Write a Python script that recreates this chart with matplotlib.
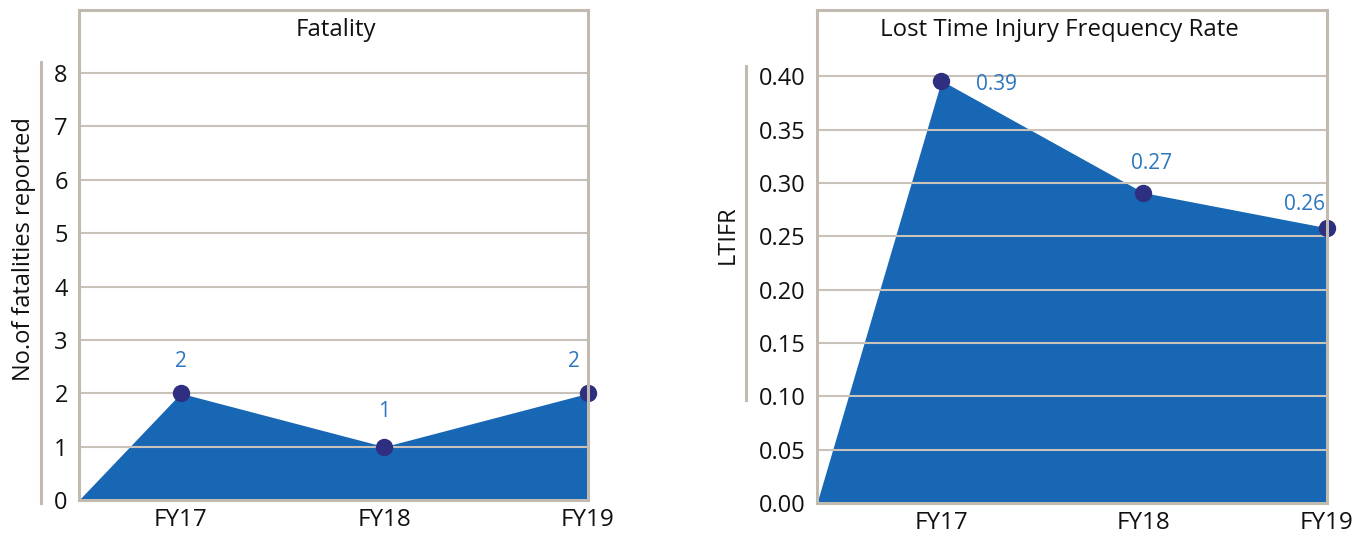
import matplotlib.pyplot as plt

plt.rcParams['font.family'] = ['Open Sans', 'DejaVu Sans']

years = ["FY17", "FY18", "FY19"]

fatal_x = [0.5, 1.5, 2.5]
fatalities = [2, 1, 2]
fatal_labels = ["2", "1", "2"]
fatal_offsets = [(0, 23), (0, 25), (-10, 23)]
fatal_ticks = [0, 1, 2, 3, 4, 5, 6, 7, 8]

ltifr_x = [0.61, 1.6, 2.5]
ltifr = [0.396, 0.291, 0.258]
ltifr_labels = ["0.39", "0.27", "0.26"]
ltifr_offsets = [(40, -3), (6, 21), (-16, 17)]
ltifr_ticks = [0.0, 0.05, 0.10, 0.15, 0.20, 0.25, 0.30, 0.35, 0.40]

FILL = "#1867b4"
MARK = "#2e2f80"
LAB = "#2a76c0"
FRAME = "#c2bab0"
GRID = "#c8c2ba"

fig = plt.figure(figsize=(13.68, 5.35), dpi=100)
ax1 = fig.add_axes([0.0577, 0.0654, 0.3721, 0.9156])
ax2 = fig.add_axes([0.5972, 0.0598, 0.3728, 0.9212])


def draw(ax, xs, ys, ticks, ymax, fmt, labels, offsets, title, title_x,
         ylabel, ylabel_pos, side_line):
    px = [0] + xs
    py = [0] + ys
    ax.fill_between(px, py, 0, color=FILL, lw=0, zorder=1)
    for t in ticks[1:]:
        ax.axhline(t, color=GRID, lw=1.5, zorder=2)
    ax.plot(xs, ys, 'o', color=MARK, ms=11.5, zorder=4, clip_on=False)
    for x, y, lab, off in zip(xs, ys, labels, offsets):
        ax.annotate(lab, (x, y), xytext=off, textcoords='offset points',
                    ha='center', va='center', color=LAB, fontsize=15)
    ax.set_xlim(0, xs[-1])
    ax.set_ylim(0, ymax)
    ax.set_xticks(xs)
    ax.set_xticklabels(years)
    ax.set_yticks(ticks)
    ax.set_yticklabels([fmt.format(t) for t in ticks])
    ax.tick_params(length=0, labelsize=17, colors="#111111", pad=8)
    ax.tick_params(axis='x', labelsize=17.5, pad=6)
    for s in ax.spines.values():
        s.set_color(FRAME)
        s.set_linewidth(2.2)
        s.set_zorder(5)
    ax.text(title_x, 0.959, title, transform=ax.transAxes, ha='center',
            va='center', fontsize=17.3, color="#111111")
    ax.set_ylabel(ylabel, fontsize=17, color="#111111")
    ax.yaxis.set_label_coords(*ylabel_pos)
    lx, y0, y1 = side_line
    ax.plot([lx, lx], [y0, y1], transform=ax.transAxes, color=FRAME,
            lw=2.2, clip_on=False)


draw(ax1, fatal_x, fatalities, fatal_ticks, 9.18, "{:.0f}", fatal_labels,
     fatal_offsets, "Fatality", 0.505, "No.of fatalities reported",
     (-0.084, 0.512), (-0.075, -0.006, 0.894))
draw(ax2, ltifr_x, ltifr, ltifr_ticks, 0.462, "{:.2f}", ltifr_labels,
     ltifr_offsets, "Lost Time Injury Frequency Rate", 0.476, "LTIFR",
     (-0.152, 0.544), (-0.139, 0.209, 0.886))

fig.savefig("out.png", dpi=100)
